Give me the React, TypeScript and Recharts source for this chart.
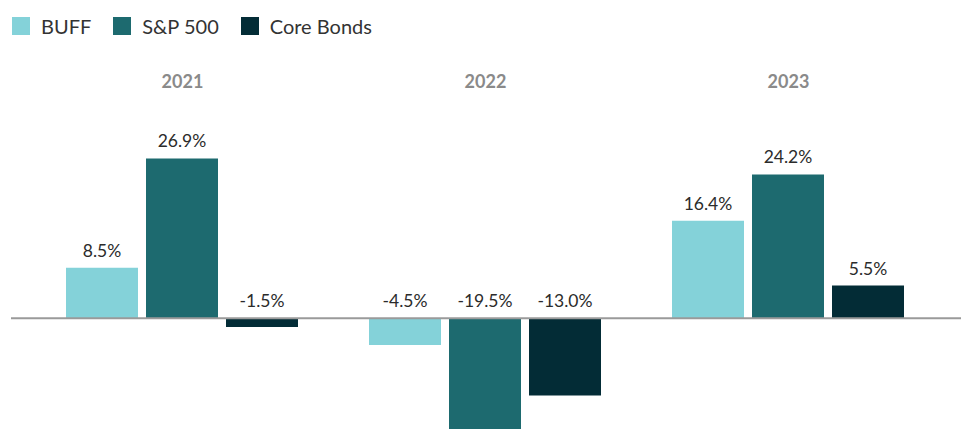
import { BarChart, Bar, XAxis, YAxis, ReferenceLine, LabelList } from 'recharts';

const years = ['2021', '2022', '2023'];
const buff = [8.5, -4.5, 16.4];
const sp500 = [26.9, -19.5, 24.2];
const coreBonds = [-1.5, -13.0, 5.5];

const series = [
    { key: 'buff', name: 'BUFF', color: '#84D2D9' },
    { key: 'sp500', name: 'S&P 500', color: '#1D6A6F' },
    { key: 'coreBonds', name: 'Core Bonds', color: '#032C36' },
];

const data = years.map((year, i) => ({
    year,
    buff: buff[i],
    sp500: sp500[i],
    coreBonds: coreBonds[i],
}));

const FONT = 'Lato, "Noto Sans", sans-serif';

function ValueLabel(props: any) {
    const { x, y, width, height, value } = props;
    const top = Math.min(y, y + height);
    return (
        <text
            x={x + width / 2}
            y={top - 11}
            textAnchor="middle"
            fill="#2b2b2b"
            fontSize={17.5}
            fontFamily={FONT}
        >
            {value.toFixed(1)}%
        </text>
    );
}

function YearTick(props: any) {
    const { x, payload } = props;
    return (
        <text x={x} y={88} textAnchor="middle" fill="#8a8a8a" fontSize={18} fontWeight={700} fontFamily={FONT}>
            {payload.value}
        </text>
    );
}

function ZeroLine(props: any) {
    const { x1, y1, x2, y2 } = props;
    return <line x1={x1 - 20} y1={y1} x2={x2 + 21} y2={y2} stroke="#9a9a9a" strokeWidth={2} />;
}

export default function App() {
    return (
        <div style={{ position: 'absolute', left: 0, top: 0, width: 961, height: 429, overflow: 'hidden', background: '#fff' }}>
            <div style={{ position: 'absolute', left: 12, top: 14, display: 'flex', alignItems: 'center', fontFamily: FONT, fontSize: 20, color: '#333' }}>
                {series.map((s) => (
                    <div key={s.key} style={{ display: 'flex', alignItems: 'center', marginRight: 22 }}>
                        <span style={{ width: 18, height: 18, background: s.color, display: 'inline-block', marginRight: 11 }} />
                        <span>{s.name}</span>
                    </div>
                ))}
            </div>
            <BarChart
                width={961}
                height={440}
                data={data}
                margin={{ top: 100, right: 21, left: 31, bottom: 3 }}
                barCategoryGap={35}
                barGap={8}
            >
                <XAxis dataKey="year" orientation="top" height={40} axisLine={false} tickLine={false} tick={<YearTick />} />
                <YAxis hide domain={[-20, 30]} />
                <ReferenceLine y={0} shape={<ZeroLine />} />
                {series.map((s) => (
                    <Bar key={s.key} dataKey={s.key} name={s.name} fill={s.color} isAnimationActive={false}>
                        <LabelList dataKey={s.key} content={<ValueLabel />} />
                    </Bar>
                ))}
            </BarChart>
        </div>
    );
}
